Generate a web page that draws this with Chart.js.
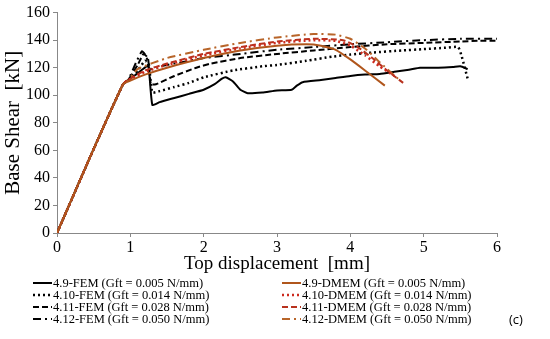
<!DOCTYPE html>
<html>
<head>
<meta charset="utf-8">
<script src="https://cdn.jsdelivr.net/npm/chart.js@4/dist/chart.umd.min.js"></script>
<style>
  html, body { margin: 0; padding: 0; background: #fff; }
  #wrap { position: relative; width: 550px; height: 339px; }
</style>
</head>
<body>
<div id="wrap"><canvas id="grafico" width="550" height="339"></canvas></div>
<script>
// series data (top displacement [mm], base shear [kN])
var fem49X = [0, 0.5, 0.9, 0.97, 1.1, 1.22, 1.25, 1.3, 1.4, 1.6, 1.8, 2.0, 2.15, 2.25, 2.3, 2.4, 2.5, 2.6, 2.8, 3.0, 3.2, 3.27, 3.35, 3.6, 3.8, 4.0, 4.2, 4.4, 4.6, 4.8, 4.95, 5.2, 5.4, 5.5, 5.6];
var fem49Y = [0, 61, 108, 111, 116, 121, 121, 93, 95, 98, 101, 104, 108, 112, 113, 110, 104, 101.5, 102, 103.5, 104, 107, 109.5, 111, 112.5, 114, 115, 115.5, 117, 118.5, 120, 120, 120.5, 121, 119];

var fem410X = [0, 0.5, 0.9, 0.97, 1.1, 1.2, 1.25, 1.3, 1.4, 1.6, 1.8, 2.0, 2.4, 2.8, 3.0, 3.4, 3.75, 4.0, 4.3, 4.7, 5.0, 5.3, 5.47, 5.52, 5.6];
var fem410Y = [0, 61, 108, 111, 118, 125, 123, 102, 103, 106, 109, 113, 118, 121, 122, 125, 128, 129.5, 131, 132.5, 133.5, 134.5, 135, 128, 112];

var fem411X = [0, 0.5, 0.9, 0.97, 1.1, 1.18, 1.24, 1.28, 1.35, 1.6, 1.9, 2.1, 2.5, 3.0, 3.5, 4.0, 4.5, 5.0, 5.5, 5.75, 6.0];
var fem411Y = [0, 61, 108, 111, 122, 130, 127, 108, 108, 114, 120, 123, 127, 130, 132.5, 135, 137, 138, 139, 139.5, 139.5];

var fem412X = [0, 0.5, 0.9, 0.97, 1.08, 1.16, 1.22, 1.26, 1.4, 1.7, 2.0, 2.5, 3.0, 3.5, 4.0, 4.5, 5.0, 5.5, 6.0];
var fem412Y = [0, 61, 108, 111, 124, 132, 128, 119, 121, 124, 127, 130, 133, 135, 137, 138.5, 140, 141, 141];

var dmem49X = [0, 0.5, 0.9, 0.97, 1.2, 1.5, 2.0, 2.5, 3.0, 3.4, 3.6, 3.8, 4.0, 4.2, 4.47];
var dmem49Y = [0, 61, 108, 110, 115, 120, 127, 132.5, 136, 137, 136, 133, 126, 118, 107];

var dmem410X = [0, 0.5, 0.9, 0.97, 1.2, 1.5, 2.0, 2.5, 3.0, 3.5, 3.8, 4.0, 4.2, 4.4, 4.6];
var dmem410Y = [0, 61, 108, 111, 117, 122, 129, 134, 138, 140, 139.5, 136, 129, 121, 114];

var dmem411X = [0, 0.5, 0.9, 0.97, 1.2, 1.5, 2.0, 2.5, 3.0, 3.5, 3.9, 4.1, 4.3, 4.5, 4.72];
var dmem411Y = [0, 61, 108, 111, 118, 123, 130, 135, 139, 141, 140, 135, 127, 118, 109];

var dmem412X = [0, 0.5, 0.9, 0.97, 1.1, 1.5, 2.0, 2.5, 3.0, 3.5, 3.8, 4.0, 4.2, 4.4, 4.65];
var dmem412Y = [0, 61, 108, 111, 119, 127, 133, 138, 142, 144.5, 144, 141, 134, 124, 112];

var labels = [
  "4.9-FEM (Gft = 0.005 N/mm)",
  "4.10-FEM (Gft = 0.014 N/mm)",
  "4.11-FEM (Gft = 0.028 N/mm)",
  "4.12-FEM (Gft = 0.050 N/mm)",
  "4.9-DMEM (Gft = 0.005 N/mm)",
  "4.10-DMEM (Gft = 0.014 N/mm)",
  "4.11-DMEM (Gft = 0.028 N/mm)",
  "4.12-DMEM (Gft = 0.050 N/mm)"
];
var xTicks = [0, 1, 2, 3, 4, 5, 6];
var yTicks = [0, 20, 40, 60, 80, 100, 120, 140, 160];

function pts(xs, ys) {
  var out = [];
  for (var i = 0; i < xs.length; i++) out.push({ x: xs[i], y: ys[i] });
  return out;
}

var serif = "'Liberation Serif', 'Times New Roman', serif";

function serie(label, xs, ys, color, dash, width) {
  return {
    label: label,
    data: pts(xs, ys),
    borderColor: color,
    backgroundColor: color,
    borderDash: dash,
    borderWidth: width,
    pointRadius: 0,
    showLine: true,
    fill: false,
    tension: 0.15
  };
}

var dDot = [2, 3];
var dDash = [6, 3];
var dDashDot = [8, 4, 2, 4];

var datasets = [
  serie(labels[4], dmem49X, dmem49Y, "#b0561c", [], 2),
  serie(labels[5], dmem410X, dmem410Y, "#cc2a1e", dDot, 2.5),
  serie(labels[6], dmem411X, dmem411Y, "#b8321e", dDash, 2),
  serie(labels[7], dmem412X, dmem412Y, "#b8652a", dDashDot, 2),
  serie(labels[0], fem49X, fem49Y, "#000", [], 2),
  serie(labels[1], fem410X, fem410Y, "#000", dDot, 2.5),
  serie(labels[2], fem411X, fem411Y, "#000", dDash, 2),
  serie(labels[3], fem412X, fem412Y, "#000", dDashDot, 2)
];

// legend in two columns, FEM left and DMEM right
var legendaPlugin = {
  id: "legenda",
  afterDraw: function (chart) {
    var ctx = chart.ctx;
    var rows = [283, 295, 307, 319];
    ctx.save();
    ctx.font = "12.5px " + serif;
    ctx.textBaseline = "middle";
    ctx.fillStyle = "#000";
    for (var i = 0; i < 8; i++) {
      var ds = chart.data.datasets[i < 4 ? i + 4 : i - 4];
      var col = i < 4 ? 0 : 1;
      var y = rows[i % 4];
      var x0 = col === 0 ? 33 : 282;
      ctx.beginPath();
      ctx.setLineDash(ds.borderDash);
      ctx.strokeStyle = ds.borderColor;
      ctx.lineWidth = ds.borderWidth;
      ctx.moveTo(x0, y);
      ctx.lineTo(x0 + 19, y);
      ctx.stroke();
      ctx.setLineDash([]);
      ctx.fillText(ds.label, x0 + 20, y + 1);
    }
    ctx.font = "13px 'Open Sans', sans-serif";
    ctx.fillText("(c)", 509, 320);
    ctx.restore();
  }
};

var ctx = document.getElementById("grafico").getContext("2d");
var myChart = new Chart(ctx, {
  type: "scatter",
  data: { datasets: datasets },
  options: {
    responsive: false,
    animation: false,
    layout: { padding: { top: 8, right: 53, bottom: 56, left: 0 } },
    plugins: {
      legend: { display: false },
      tooltip: { enabled: false }
    },
    scales: {
      x: {
        type: "linear",
        min: 0,
        max: 6,
        afterBuildTicks: function (s) { s.ticks = xTicks.map(function (v) { return { value: v }; }); },
        afterFit: function (s) { s.height = 50; },
        ticks: { color: "#000", font: { family: serif, size: 16 }, padding: 1 },
        grid: { drawOnChartArea: false, drawTicks: true, tickLength: 4, color: "#888" },
        border: { color: "#888", width: 1 },
        title: {
          display: true,
          text: "Top displacement  [mm]",
          color: "#000",
          font: { family: serif, size: 19 },
          padding: { top: 0, bottom: 8 }
        }
      },
      y: {
        type: "linear",
        min: 0,
        max: 160,
        afterBuildTicks: function (s) { s.ticks = yTicks.map(function (v) { return { value: v }; }); },
        afterFit: function (s) { s.width = 57; },
        ticks: { color: "#000", font: { family: serif, size: 16 }, padding: 3 },
        grid: { drawOnChartArea: false, drawTicks: true, tickLength: 4, color: "#888" },
        border: { color: "#888", width: 1 },
        title: {
          display: true,
          text: "Base Shear  [kN]",
          color: "#000",
          font: { family: serif, size: 21 },
          padding: { top: 1, bottom: 0 }
        }
      }
    }
  },
  plugins: [legendaPlugin]
});
</script>
</body>
</html>
